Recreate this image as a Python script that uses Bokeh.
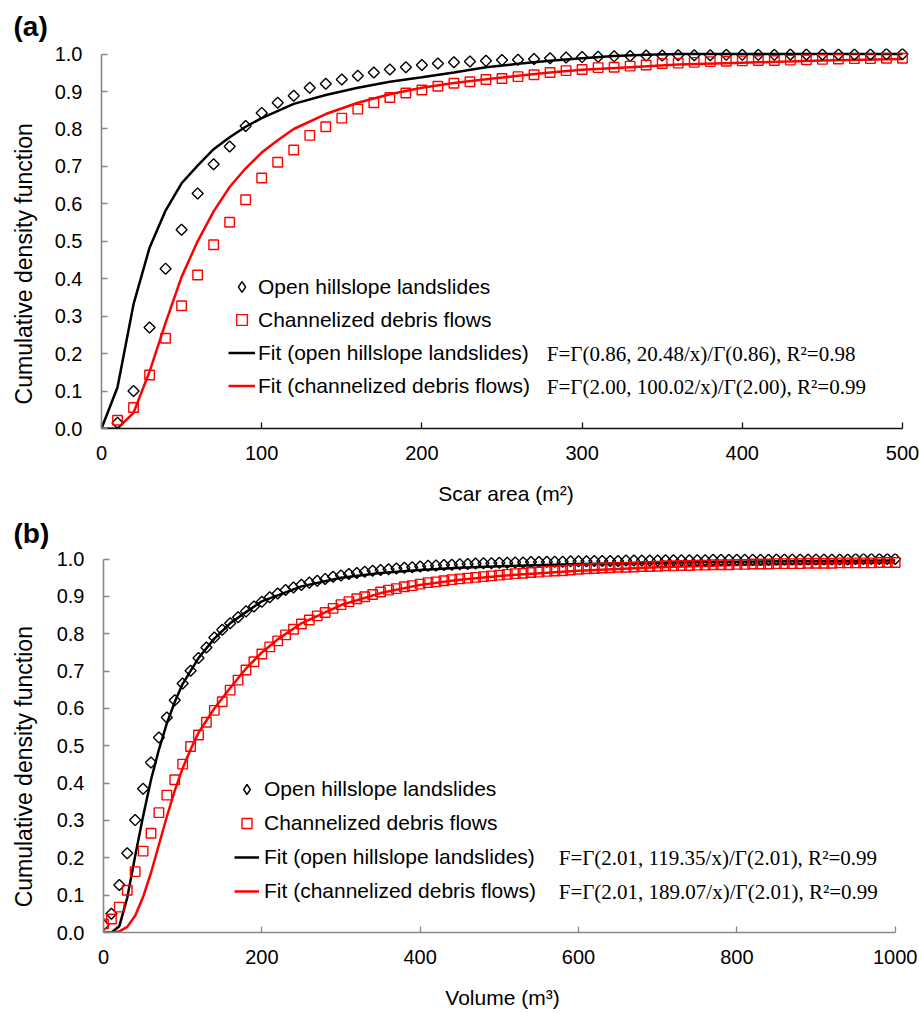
import numpy as np
from bokeh.plotting import figure
from bokeh.models import Legend, LegendItem, Label, FixedTicker, NumeralTickFormatter, Range1d
from bokeh.layouts import column, row
from bokeh.embed import file_html
from bokeh.resources import INLINE

# ---------------- Panel (a): scar area ----------------
area_x = [10, 20, 30, 40, 50, 60, 70, 80, 90, 100, 110, 120, 130, 140, 150, 160, 170, 180, 190, 200,
          210, 220, 230, 240, 250, 260, 270, 280, 290, 300, 310, 320, 330, 340, 350, 360, 370, 380, 390, 400,
          410, 420, 430, 440, 450, 460, 470, 480, 490, 500]
area_open = [0.015, 0.100, 0.270, 0.427, 0.531, 0.628, 0.706, 0.753, 0.808, 0.843, 0.870, 0.889, 0.910, 0.921,
             0.932, 0.942, 0.951, 0.959, 0.965, 0.971, 0.975, 0.978, 0.980, 0.982, 0.984, 0.985, 0.987, 0.989,
             0.991, 0.992, 0.993, 0.994, 0.995, 0.996, 0.996, 0.997, 0.997, 0.997, 0.998, 0.998, 0.998, 0.998,
             0.999, 0.999, 0.999, 0.999, 0.999, 0.999, 1.000, 1.000]
area_chan = [0.022, 0.056, 0.143, 0.241, 0.328, 0.410, 0.491, 0.551, 0.611, 0.669, 0.711, 0.744, 0.783, 0.806,
             0.829, 0.853, 0.870, 0.884, 0.896, 0.904, 0.914, 0.922, 0.926, 0.932, 0.935, 0.940, 0.945, 0.951,
             0.956, 0.959, 0.964, 0.965, 0.968, 0.971, 0.975, 0.976, 0.978, 0.980, 0.981, 0.982, 0.983, 0.983,
             0.984, 0.985, 0.986, 0.987, 0.988, 0.988, 0.989, 0.989]
area_fit_open_x = [0, 10, 20, 30, 40, 50, 60, 70, 80, 90, 100, 120, 140, 160, 180, 200, 220, 240, 260, 280,
                   300, 320, 340, 360, 500]
area_fit_open_y = [0.0, 0.11, 0.332, 0.483, 0.582, 0.655, 0.702, 0.746, 0.778, 0.806, 0.829, 0.867, 0.891, 0.910,
                   0.926, 0.938, 0.951, 0.965, 0.974, 0.982, 0.989, 0.995, 0.998, 1.0, 1.0]
area_fit_chan_x = [0, 10, 20, 30, 40, 50, 60, 70, 80, 90, 100, 110, 120, 140, 160, 180, 200, 220, 240, 260,
                   280, 300, 330, 360, 400, 450, 500]
area_fit_chan_y = [0.0, 0.0, 0.042, 0.152, 0.282, 0.405, 0.500, 0.580, 0.645, 0.695, 0.737, 0.770, 0.800, 0.840,
                   0.870, 0.893, 0.910, 0.923, 0.933, 0.942, 0.951, 0.958, 0.965, 0.972, 0.977, 0.983, 0.987]

# ---------------- Panel (b): volume ----------------
vol_x = list(range(0, 1001, 10))
vol_open = [0.020, 0.050, 0.127, 0.212, 0.301, 0.385, 0.455, 0.522, 0.576, 0.622,
            0.667, 0.701, 0.735, 0.763, 0.790, 0.811, 0.828, 0.844, 0.860, 0.873,
            0.886, 0.898, 0.908, 0.917, 0.924, 0.931, 0.937, 0.942, 0.947, 0.953,
            0.956, 0.960, 0.963, 0.966, 0.969, 0.971, 0.973, 0.975, 0.977, 0.978,
            0.980, 0.982, 0.983, 0.984, 0.985, 0.986, 0.987, 0.988, 0.989, 0.989,
            0.990, 0.990, 0.991, 0.991, 0.992, 0.992, 0.993, 0.993, 0.993, 0.994,
            0.994, 0.994, 0.995, 0.995, 0.995, 0.995, 0.996, 0.996, 0.996, 0.996,
            0.996, 0.997, 0.997, 0.997, 0.997, 0.997, 0.997, 0.998, 0.998, 0.998,
            0.998, 0.998, 0.998, 0.998, 0.998, 0.999, 0.999, 0.999, 0.999, 0.999,
            0.999, 0.999, 0.999, 0.999, 0.999, 1.000, 1.000, 1.000, 1.000, 1.000,
            1.000]
vol_chan = [0.023, 0.036, 0.068, 0.113, 0.163, 0.218, 0.266, 0.321, 0.368, 0.409,
            0.451, 0.498, 0.529, 0.563, 0.595, 0.618, 0.649, 0.676, 0.703, 0.725,
            0.746, 0.765, 0.781, 0.797, 0.812, 0.826, 0.837, 0.848, 0.857, 0.868,
            0.878, 0.886, 0.894, 0.899, 0.905, 0.912, 0.917, 0.921, 0.926, 0.929,
            0.933, 0.937, 0.939, 0.942, 0.945, 0.947, 0.949, 0.951, 0.953, 0.955,
            0.957, 0.959, 0.961, 0.962, 0.964, 0.965, 0.967, 0.968, 0.969, 0.971,
            0.973, 0.974, 0.975, 0.976, 0.977, 0.978, 0.978, 0.979, 0.980, 0.980,
            0.981, 0.982, 0.982, 0.983, 0.983, 0.984, 0.984, 0.985, 0.985, 0.985,
            0.986, 0.986, 0.987, 0.987, 0.987, 0.988, 0.988, 0.988, 0.988, 0.989,
            0.989, 0.989, 0.989, 0.990, 0.990, 0.990, 0.990, 0.990, 0.991, 0.991,
            0.991]
vol_fit_open_x = [0, 10, 20, 30, 40, 50, 60, 70, 80, 90, 100, 120, 140, 160, 180, 200, 250, 300, 350, 400,
                  450, 500, 600, 700, 800, 900, 1000]
vol_fit_open_y = [0.0, 0.0, 0.017, 0.093, 0.205, 0.311, 0.409, 0.490, 0.560, 0.617, 0.666, 0.735, 0.787, 0.828,
                  0.858, 0.887, 0.927, 0.950, 0.963, 0.971, 0.977, 0.981, 0.987, 0.990, 0.993, 0.995, 0.996]
vol_fit_chan_x = [0, 10, 20, 30, 40, 50, 60, 70, 80, 90, 100, 110, 120, 140, 160, 180, 200, 220, 250, 300,
                  350, 400, 450, 500, 600, 700, 800, 900, 1000]
vol_fit_chan_y = [0.0, 0.0, 0.003, 0.015, 0.045, 0.095, 0.160, 0.235, 0.310, 0.380, 0.440, 0.490, 0.535, 0.600,
                  0.655, 0.707, 0.750, 0.785, 0.828, 0.877, 0.909, 0.931, 0.945, 0.955, 0.969, 0.978, 0.984,
                  0.988, 0.991]

y_ticks = [0.0, 0.1, 0.2, 0.3, 0.4, 0.5, 0.6, 0.7, 0.8, 0.9, 1.0]
area_ticks = [0, 100, 200, 300, 400, 500]
vol_ticks = [0, 200, 400, 600, 800, 1000]

label_open = "Open hillslope landslides"
label_chan = "Channelized debris flows"
label_fit_open = "Fit (open hillslope landslides)"
label_fit_chan = "Fit (channelized debris flows)"
y_title = "Cumulative density function"
formula_a = ["F=\u0393(0.86, 20.48/x)/\u0393(0.86), R\u00b2=0.98",
             "F=\u0393(2.00, 100.02/x)/\u0393(2.00), R\u00b2=0.99"]
formula_b = ["F=\u0393(2.01, 119.35/x)/\u0393(2.01), R\u00b2=0.99",
             "F=\u0393(2.01, 189.07/x)/\u0393(2.01), R\u00b2=0.99"]

SANS = "Liberation Sans"
SERIF = "Liberation Serif"
GRAY = "#878787"
SIDE_W = 50


def make_side(height, top, tag, tag_standoff, title_y):
    """Narrow strip left of a panel: panel tag (as title) and the vertical axis title.
    Its frame is aligned with the panel's frame, so it shares the panel's y scale."""
    s = figure(width=SIDE_W, height=height, min_border_left=0, min_border_right=0,
               min_border_top=top, min_border_bottom=0, output_backend="svg", toolbar_location=None,
               x_range=Range1d(0, SIDE_W), y_range=Range1d(0, 1.015))
    s.axis.visible = False
    s.grid.visible = False
    s.outline_line_color = None
    s.title.text = tag
    s.title.align = "left"
    s.title.offset = 13
    s.title.standoff = tag_standoff
    s.title.text_font = SANS
    s.title.text_font_size = "28px"
    s.title.text_font_style = "bold"
    s.title.text_color = "black"
    s.add_layout(Label(x=23, y=title_y, text=y_title, angle=np.pi / 2, text_align="center",
                       text_baseline="middle", text_font=SANS, text_font_size="23px",
                       text_color="black"))
    return s


def make_panel(xs, open_y, chan_y, fo_x, fo_y, fc_x, fc_y, xmax, xpad, xticks, xtitle,
               fw, fh, left, right, top, bottom, xaxis_color, legend_loc, glyph_w, standoff,
               row_h, formulas, fx, fy):
    p = figure(frame_width=fw, frame_height=fh, min_border_left=left, min_border_right=right,
               min_border_top=top, min_border_bottom=bottom, output_backend="svg",
               toolbar_location=None, x_range=Range1d(0, xmax + xpad), y_range=Range1d(0, 1.015))
    p.outline_line_color = None
    p.xgrid.visible = False
    p.ygrid.visible = False
    p.background_fill_color = "white"

    r_fo = p.line(fo_x, fo_y, line_color="black", line_width=2.5)
    r_fc = p.line(fc_x, fc_y, line_color="#ff0000", line_width=2.5)
    p.scatter(xs, open_y, marker="square", size=7.8, angle=np.pi / 4, line_color="black",
              fill_alpha=0, line_width=1.4)
    r_c = p.scatter(xs, chan_y, marker="square", size=9.5, line_color="#ff0000", fill_alpha=0,
                    line_width=1.4)
    # hidden copy used only as the legend swatch (diamond glyph)
    r_o_key = p.scatter(xs, open_y, marker="diamond", size=12.5, line_color="black", fill_alpha=0,
                        line_width=1.4, visible=False)

    for ax, col in ((p.xaxis[0], xaxis_color), (p.yaxis[0], GRAY)):
        ax.axis_line_color = col
        ax.axis_line_width = 1.6
        ax.major_tick_line_color = col
        ax.major_tick_line_width = 1.3
        ax.major_tick_in = 6
        ax.major_tick_out = 0
        ax.minor_tick_line_color = None
        ax.major_label_text_font = SANS
        ax.major_label_text_font_size = "20px"
        ax.major_label_text_color = "black"

    p.xaxis.ticker = FixedTicker(ticks=xticks)
    p.xaxis.bounds = (0, xmax)
    p.xaxis.major_label_standoff = 17
    p.xaxis.axis_label = xtitle
    p.xaxis.axis_label_text_font = SANS
    p.xaxis.axis_label_text_font_size = "21px"
    p.xaxis.axis_label_text_font_style = "normal"
    p.xaxis.axis_label_text_color = "black"
    p.xaxis.axis_label_standoff = 19

    p.yaxis.ticker = FixedTicker(ticks=y_ticks)
    p.yaxis.bounds = (0, 1)
    p.yaxis.formatter = NumeralTickFormatter(format="0.0")
    p.yaxis.major_label_standoff = 19

    legend = Legend(items=[LegendItem(label=label_open, renderers=[r_o_key]),
                           LegendItem(label=label_chan, renderers=[r_c]),
                           LegendItem(label=label_fit_open, renderers=[r_fo]),
                           LegendItem(label=label_fit_chan, renderers=[r_fc])],
                    location=legend_loc, glyph_width=glyph_w, glyph_height=row_h, label_height=row_h,
                    spacing=0, padding=0, margin=0, label_standoff=standoff,
                    border_line_alpha=0, background_fill_alpha=0, inactive_fill_alpha=0,
                    label_text_font=SANS, label_text_font_size="21px", label_text_color="black")
    p.add_layout(legend)

    for txt, yy in zip(formulas, fy):
        p.add_layout(Label(x=fx, y=yy, text=txt, text_align="left", text_baseline="middle",
                           text_font=SERIF, text_font_size="21px", text_color="black"))
    return p


pa = make_panel(area_x, area_open, area_chan, area_fit_open_x, area_fit_open_y,
                area_fit_chan_x, area_fit_chan_y, 500, 5, area_ticks, "Scar area (m\u00b2)",
                809, 380, 101 - SIDE_W, 9, 48, 80, "#111111", (127, 26), 27, 3, 33,
                formula_a, 278, [0.198, 0.1096])
sa = make_side(508, 48, "(a)", 14, 0.44)

pb = make_panel(vol_x, vol_open, vol_chan, vol_fit_open_x, vol_fit_open_y,
                vol_fit_chan_x, vol_fit_chan_y, 1000, 8, vol_ticks, "Volume (m\u00b3)",
                798, 379, 103 - SIDE_W, 18, 45, 81, GRAY, (131, 24), 25, 5, 34,
                formula_b, 575, [0.1995, 0.108])
sb = make_side(505, 45, "(b)", 10, 0.444)

layout = column(row(sa, pa, spacing=0), row(sb, pb, spacing=0), spacing=0)
open("out.html", "w").write(file_html(layout, INLINE))
